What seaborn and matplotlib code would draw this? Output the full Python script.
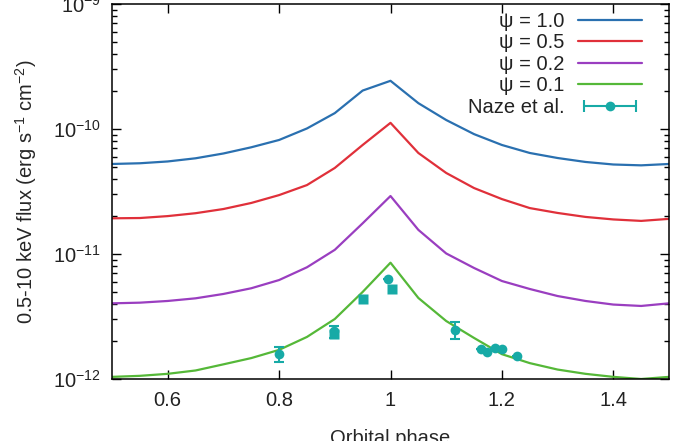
import numpy as np
import pandas as pd
import seaborn as sns
import matplotlib.pyplot as plt
from matplotlib.lines import Line2D
from matplotlib.legend_handler import HandlerLine2D, HandlerTuple

# model curves
phase = [0.50, 0.55, 0.60, 0.65, 0.70, 0.75, 0.80, 0.85, 0.90, 0.95, 1.00,
         1.05, 1.10, 1.15, 1.20, 1.25, 1.30, 1.35, 1.40, 1.45, 1.50]
flux_psi10 = [5.25e-11, 5.32e-11, 5.5e-11, 5.83e-11, 6.37e-11, 7.14e-11, 8.17e-11,
              1.01e-10, 1.34e-10, 2.03e-10, 2.43e-10, 1.61e-10, 1.18e-10, 9.1e-11,
              7.45e-11, 6.43e-11, 5.86e-11, 5.45e-11, 5.2e-11, 5.12e-11, 5.25e-11]
flux_psi05 = [1.93e-11, 1.94e-11, 2.01e-11, 2.12e-11, 2.29e-11, 2.56e-11, 2.96e-11,
              3.56e-11, 4.88e-11, 7.45e-11, 1.12e-10, 6.43e-11, 4.45e-11, 3.37e-11,
              2.75e-11, 2.33e-11, 2.13e-11, 1.98e-11, 1.89e-11, 1.84e-11, 1.91e-11]
flux_psi02 = [4.03e-12, 4.08e-12, 4.21e-12, 4.42e-12, 4.79e-12, 5.32e-12, 6.19e-12,
              7.83e-12, 1.08e-11, 1.76e-11, 2.91e-11, 1.56e-11, 1.01e-11, 7.73e-12,
              6.08e-12, 5.25e-12, 4.61e-12, 4.21e-12, 3.94e-12, 3.84e-12, 4.03e-12]
flux_psi01 = [1.04e-12, 1.06e-12, 1.10e-12, 1.17e-12, 1.31e-12, 1.47e-12, 1.71e-12,
              2.17e-12, 3.02e-12, 4.97e-12, 8.52e-12, 4.45e-12, 2.91e-12, 2.13e-12,
              1.58e-12, 1.34e-12, 1.19e-12, 1.10e-12, 1.04e-12, 1.0e-12, 1.04e-12]
labels = ['ψ = 1.0', 'ψ = 0.5', 'ψ = 0.2', 'ψ = 0.1']
colors = ['#2a70b0', '#e0303a', '#9a3ec0', '#55b838']

# observations (Naze et al.)
naze_phase = [0.800, 0.899, 0.995, 1.116, 1.162, 1.174, 1.188, 1.200, 1.228]
naze_flux = [1.58e-12, 2.42e-12, 6.3e-12, 2.47e-12, 1.73e-12, 1.65e-12, 1.78e-12, 1.73e-12, 1.53e-12]
naze_lo = [1.38e-12, 2.13e-12, 6.3e-12, 2.08e-12, 1.73e-12, 1.65e-12, 1.78e-12, 1.73e-12, 1.53e-12]
naze_hi = [1.81e-12, 2.65e-12, 6.3e-12, 2.87e-12, 1.73e-12, 1.65e-12, 1.78e-12, 1.73e-12, 1.53e-12]
sq_phase = [0.899, 0.950, 1.002]
sq_flux = [2.30e-12, 4.34e-12, 5.22e-12]
teal = '#17aaa6'

sns.set_theme(style='ticks')
plt.rcParams['font.family'] = ['Liberation Sans', 'DejaVu Sans']
plt.rcParams['mathtext.default'] = 'regular'
plt.rcParams['font.size'] = 14.5

df = pd.DataFrame({
    'phase': phase * 4,
    'flux': flux_psi10 + flux_psi05 + flux_psi02 + flux_psi01,
    'model': sum([[l] * len(phase) for l in labels], []),
})

fig = plt.figure(figsize=(6.78, 4.41), dpi=100)
ax = fig.add_axes([112 / 678, 62 / 441, 557 / 678, 375 / 441])

sns.lineplot(data=df, x='phase', y='flux', hue='model', hue_order=labels,
             palette=dict(zip(labels, colors)), linewidth=1.6, legend=False, ax=ax)
model_lines = ax.get_lines()[:4]

ax.plot(sq_phase, sq_flux, 's', color=teal, ms=7.2, mec='none')
nf = np.array(naze_flux)
yerr = [nf - np.array(naze_lo), np.array(naze_hi) - nf]
ax.errorbar(naze_phase, naze_flux, yerr=yerr, fmt='o', color=teal, ms=7,
            mec='none', capsize=3.5, elinewidth=1.5, capthick=1.5)

ax.set_yscale('log')
ax.set_xlim(0.5, 1.5)
ax.set_ylim(1e-12, 1e-9)
ax.set_xticks([0.6, 0.8, 1.0, 1.2, 1.4])
ax.set_xticklabels(['0.6', '0.8', '1', '1.2', '1.4'])
ax.set_xlabel('Orbital phase', fontsize=14.5)
ax.set_ylabel('0.5-10 keV flux (erg s$^{-1}$ cm$^{-2}$)', fontsize=14.5)
ax.xaxis.set_label_coords(0.5, -0.132)
ax.yaxis.set_label_coords(-0.131, 0.5)

for s in ax.spines.values():
    s.set_color('black')
    s.set_linewidth(1.1)
ax.tick_params(which='both', direction='in', top=True, right=True, colors='black',
               labelcolor='#222222', labelsize=14.5)
ax.tick_params(which='major', length=6.5, width=1.0)
ax.tick_params(which='minor', length=3.3, width=1.0)
ax.tick_params(axis='x', which='minor', bottom=False, top=False)
ax.tick_params(axis='x', pad=9)
ax.tick_params(axis='y', pad=8)

# legend in gnuplot style: text right-aligned, sample on the right
bar = Line2D([0], [0], color=teal, lw=1.5, marker='|', ms=9, mew=1.5)
dot = Line2D([0], [0], color=teal, lw=0, marker='o', ms=7, mec='none')
handles = list(model_lines) + [(bar, dot)]
leg = ax.legend(handles, labels + ['Naze et al.'], markerfirst=False, frameon=False,
                loc='upper right', bbox_to_anchor=(642 / 678, 1 - 12 / 441),
                bbox_transform=fig.transFigure, borderpad=0, borderaxespad=0,
                handlelength=3.2, handletextpad=0.65, labelspacing=0.12, fontsize=14.5,
                handler_map={tuple: HandlerTuple(ndivide=1), bar: HandlerLine2D(numpoints=2)})
for t in leg.get_texts():
    t.set_color('#222222')

fig.savefig('out.png', dpi=100)
